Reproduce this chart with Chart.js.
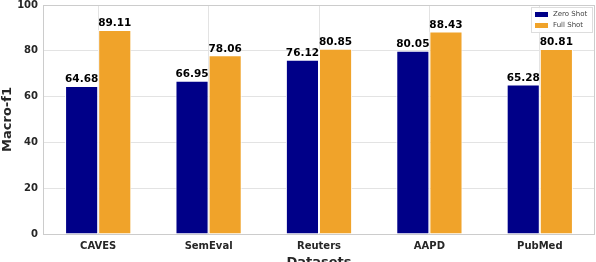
<!DOCTYPE html>
<html>
<head>
<meta charset="utf-8">
<script src="https://cdn.jsdelivr.net/npm/chart.js@4"></script>
<style>
  html, body { margin: 0; padding: 0; background: #fff; overflow: hidden; }
  #wrap { width: 596px; height: 270px; }
</style>
</head>
<body>
<div id="wrap"><canvas id="chart" width="596" height="270"></canvas></div>
<script>
// datos
const categories = ['CAVES', 'SemEval', 'Reuters', 'AAPD', 'PubMed'];
const zeroShot = [64.68, 66.95, 76.12, 80.05, 65.28];
const fullShot = [89.11, 78.06, 80.85, 88.43, 80.81];
const seriesNames = ['Zero Shot', 'Full Shot'];
const yTicks = [0, 20, 40, 60, 80, 100];

const FONT = "'DejaVu Sans', sans-serif";
const TXT = '#262626';

// etiquetas encima de cada barra
const barLabels = {
  id: 'barLabels',
  afterDatasetsDraw(chart) {
    const ctx = chart.ctx;
    ctx.save();
    ctx.font = 'bold 10.5px ' + FONT;
    ctx.fillStyle = '#000';
    ctx.textAlign = 'center';
    ctx.textBaseline = 'bottom';
    chart.data.datasets.forEach((ds, i) => {
      chart.getDatasetMeta(i).data.forEach((bar, j) => {
        ctx.fillText(ds.data[j].toFixed(2), bar.x, bar.y - 1);
      });
    });
    ctx.restore();
  }
};

// marco y leyenda dentro del área
const frameLegend = {
  id: 'frameLegend',
  afterDraw(chart) {
    const ctx = chart.ctx;
    const a = chart.chartArea;
    ctx.save();
    ctx.strokeStyle = '#cccccc';
    ctx.lineWidth = 1;
    ctx.strokeRect(a.left + 0.5, a.top + 0.5, a.right - a.left - 1, a.bottom - a.top);
    // leyenda
    const bx = a.right - 64, by = a.top + 2, bw = 61, bh = 25;
    ctx.fillStyle = 'rgba(255,255,255,0.85)';
    ctx.strokeStyle = '#dddddd';
    ctx.fillRect(bx, by, bw, bh);
    ctx.strokeRect(bx + 0.5, by + 0.5, bw, bh);
    ctx.font = '7px ' + FONT;
    ctx.textBaseline = 'middle';
    ctx.textAlign = 'left';
    chart.data.datasets.forEach((ds, i) => {
      const y = by + 7 + i * 11;
      ctx.fillStyle = ds.backgroundColor;
      ctx.fillRect(bx + 4, y - 2, 13, 5);
      ctx.fillStyle = '#444';
      ctx.fillText(ds.label, bx + 22, y);
    });
    ctx.restore();
  }
};

new Chart(document.getElementById('chart'), {
  type: 'bar',
  data: {
    labels: categories,
    datasets: [{
      label: seriesNames[0],
      data: zeroShot,
      backgroundColor: '#000088',
      borderColor: '#ffffff',
      borderWidth: 1,
      categoryPercentage: 0.6,
      barPercentage: 1.0
    }, {
      label: seriesNames[1],
      data: fullShot,
      backgroundColor: '#f0a32a',
      borderColor: '#ffffff',
      borderWidth: 1,
      categoryPercentage: 0.6,
      barPercentage: 1.0
    }]
  },
  options: {
    responsive: false,
    animation: false,
    layout: { padding: { top: 5, right: 1, left: 0, bottom: 0 } },
    plugins: {
      legend: { display: false },
      tooltip: { enabled: false }
    },
    scales: {
      x: {
        grid: { display: true, offset: false, color: '#e3e3e3', drawTicks: false },
        border: { display: false },
        ticks: { color: TXT, font: { family: FONT, size: 10, weight: 'bold' }, padding: 6 },
        title: { display: true, text: 'Datasets', color: TXT, font: { family: FONT, size: 13, weight: 'bold' }, padding: { top: 1, bottom: 0 } },
        afterFit(scale) { scale.height = 36; scale.paddingLeft = 0; scale.paddingRight = 0; }
      },
      y: {
        min: 0,
        max: 100,
        afterBuildTicks(scale) { scale.ticks = yTicks.map(v => ({ value: v })); },
        grid: { color: '#e3e3e3', drawTicks: false },
        border: { display: false },
        ticks: { color: TXT, font: { family: FONT, size: 10, weight: 'bold' }, padding: 5 },
        title: { display: true, text: 'Macro-f1', color: TXT, font: { family: FONT, size: 13, weight: 'bold' }, padding: { top: 0, bottom: 2 } },
        afterFit(scale) { scale.width = 43; scale.paddingTop = 0; scale.paddingBottom = 0; }
      }
    }
  },
  plugins: [barLabels, frameLegend]
});
</script>
</body>
</html>
